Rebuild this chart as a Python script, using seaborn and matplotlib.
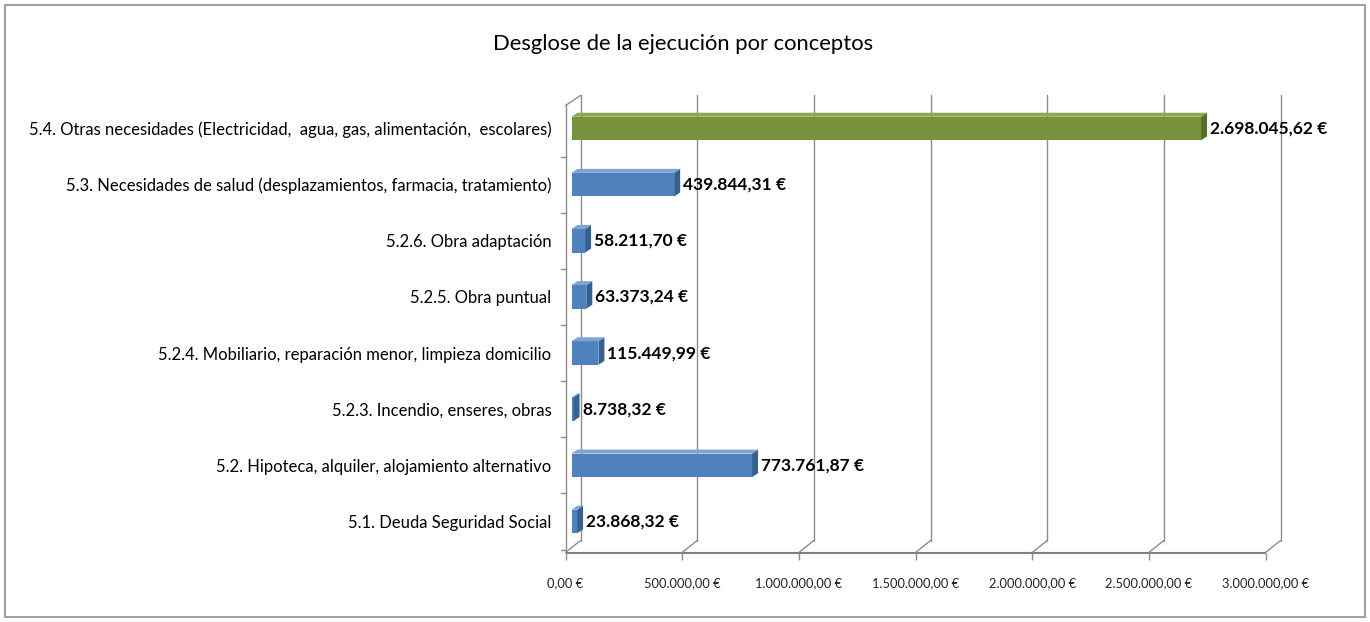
import numpy as np
import pandas as pd
import matplotlib
matplotlib.use("Agg")
import matplotlib.pyplot as plt
import matplotlib.patches as mpatches
import matplotlib.transforms as mtrans
import seaborn as sns

categories = [
    "5.4. Otras necesidades (Electricidad,  agua, gas, alimentación,  escolares)",
    "5.3. Necesidades de salud (desplazamientos, farmacia, tratamiento)",
    "5.2.6. Obra adaptación",
    "5.2.5. Obra puntual",
    "5.2.4. Mobiliario, reparación menor, limpieza domicilio",
    "5.2.3. Incendio, enseres, obras",
    "5.2. Hipoteca, alquiler, alojamiento alternativo",
    "5.1. Deuda Seguridad Social",
]
values = [2698045.62, 439844.31, 58211.70, 63373.24, 115449.99, 8738.32, 773761.87, 23868.32]
value_labels = ["2.698.045,62 €", "439.844,31 €", "58.211,70 €", "63.373,24 €",
                "115.449,99 €", "8.738,32 €", "773.761,87 €", "23.868,32 €"]
tick_values = [0, 500000, 1000000, 1500000, 2000000, 2500000, 3000000]
tick_labels = ["0,00 €", "500.000,00 €", "1.000.000,00 €", "1.500.000,00 €",
               "2.000.000,00 €", "2.500.000,00 €", "3.000.000,00 €"]
bar_colors = ["#77933C", "#4F81BD", "#4F81BD", "#4F81BD", "#4F81BD", "#4F81BD", "#4F81BD", "#4F81BD"]
side_colors = ["#566E2A", "#35618F", "#35618F", "#35618F", "#35618F", "#35618F", "#35618F", "#35618F"]
top_colors = ["#8DA858", "#7FA3D3", "#7FA3D3", "#7FA3D3", "#7FA3D3", "#7FA3D3", "#7FA3D3", "#7FA3D3"]

df = pd.DataFrame({"cat": categories, "val": values})

sns.set_theme(style="white")
plt.rcParams['font.family'] = ['Lato', 'DejaVu Sans']

W, H = 1370, 622
fig = plt.figure(figsize=(W / 100, H / 100), dpi=100)
left_px, right_px, top_px, bot_px = 565.5, 1265.5, 95.5, 552.5
ax = fig.add_axes([left_px / W, 1 - bot_px / H, (right_px - left_px) / W, (bot_px - top_px) / H])

sns.barplot(data=df, y="cat", x="val", hue="cat", palette=bar_colors, orient="h",
            width=0.42, saturation=1, legend=False, ax=ax, linewidth=0, zorder=3)

xmax = 3000000
y_lo, y_hi = 7.552, -0.588
ax.set_xlim(0, xmax)
ax.set_ylim(y_lo, y_hi)


def off(dx, dy):
    return ax.transData + mtrans.ScaledTranslation(dx / 100, dy / 100, fig.dpi_scale_trans)


px_x = xmax / (right_px - left_px)
px_y = (y_lo - y_hi) / (bot_px - top_px)
bar_shift = 6
dx = 6 * px_x
dy = 4 * px_y

for p in ax.patches:
    p.set_transform(off(bar_shift, 0))

for i, (v, sc, tc) in enumerate(zip(values, side_colors, top_colors)):
    yt = i - 0.21
    yb = i + 0.21
    side = mpatches.Polygon([(v, yb), (v + dx, yb - dy), (v + dx, yt - dy), (v, yt)],
                            closed=True, facecolor=sc, edgecolor="none", zorder=4,
                            transform=off(bar_shift, 0))
    top = mpatches.Polygon([(0, yt), (dx, yt - dy), (v + dx, yt - dy), (v, yt)],
                           closed=True, facecolor=tc, edgecolor="none", zorder=4,
                           transform=off(bar_shift, 0))
    ax.add_patch(side)
    ax.add_patch(top)
    ax.text(v + dx, i, value_labels[i], va="center", ha="left",
            fontsize=12.5, fontweight="bold", color="black", zorder=5,
            transform=off(bar_shift + 3, 0))

# back-wall gridlines with slanted foot
grid_c = "#8C8C8C"
depth_x, depth_y = 15, 12
for t in tick_values:
    l1, = ax.plot([t, t], [y_hi, y_lo - depth_y * px_y], color=grid_c, lw=1.0,
                  zorder=1, clip_on=False)
    l1.set_transform(off(depth_x, 0))
    ax.plot([t + depth_x * px_x, t], [y_lo - depth_y * px_y, y_lo], color=grid_c,
            lw=1.0, zorder=1, clip_on=False)

# floor front edge
ax.plot([0, 1], [0, 0], transform=ax.transAxes, color="#7F7F7F", lw=1.5,
        clip_on=False, zorder=10, solid_capstyle="butt")

# left side wall
ax.plot([0, 0], [y_lo, y_hi + 10 * px_y], color=grid_c, lw=1.0, clip_on=False, zorder=1)
ax.plot([0, depth_x * px_x], [y_hi + 10 * px_y, y_hi], color=grid_c, lw=1.0, clip_on=False, zorder=1)
for b in np.arange(-0.5, 8.0, 1.0):
    if b < y_hi + 10 * px_y:
        continue
    ax.plot([-5 * px_x, 0], [b, b], color=grid_c, lw=1.0, clip_on=False, zorder=1)

ax.set_xticks(tick_values)
ax.set_xticklabels(tick_labels, fontsize=9.3, color="#222222")
ax.tick_params(axis="x", length=5, color=grid_c, pad=13, direction="out", bottom=True, width=1.0)
ax.tick_params(axis="y", length=0, pad=10, labelsize=12, labelcolor="black")
ax.set_xlabel("")
ax.set_ylabel("")

for s in ["top", "right", "left", "bottom"]:
    ax.spines[s].set_visible(False)

fig.text(683 / W, 1 - 44 / H, "Desglose de la ejecución por conceptos", ha="center", va="center",
         fontsize=15.8, color="black")

border = mpatches.Rectangle((5 / W, 5 / H), 1 - 10 / W, 1 - 10 / H, transform=fig.transFigure,
                            fill=False, edgecolor="#A0A0A0", linewidth=1.5)
fig.patches.append(border)

fig.savefig("out.png", dpi=100, facecolor="white")
